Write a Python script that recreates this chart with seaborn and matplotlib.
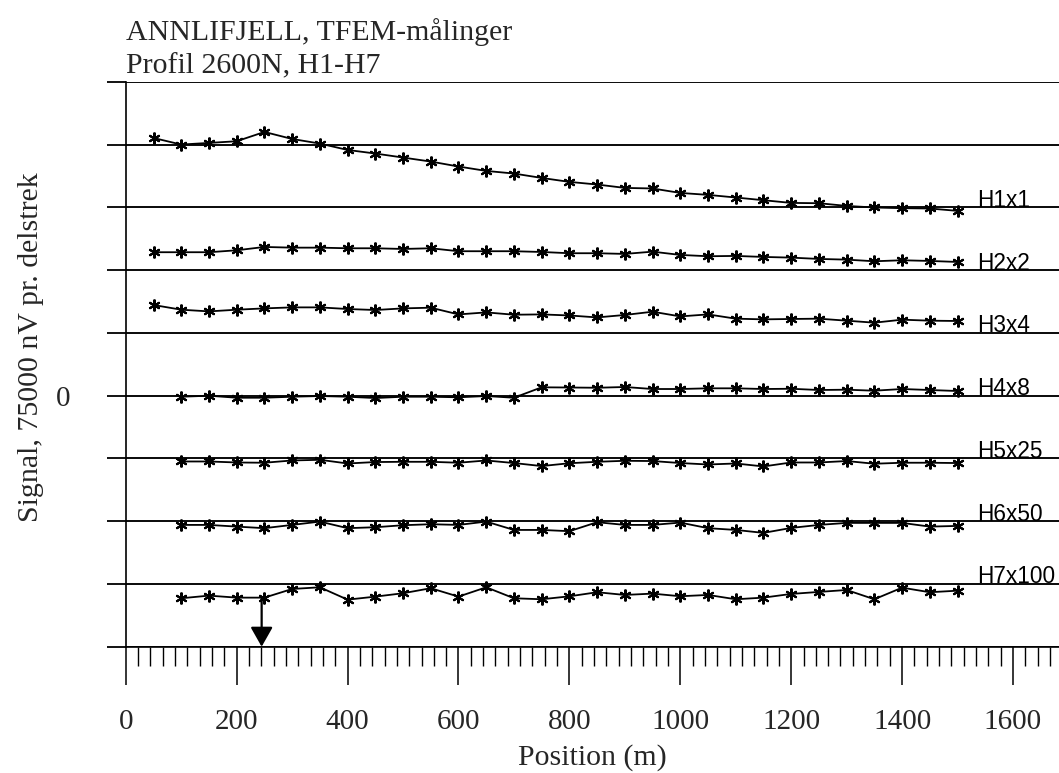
import numpy as np
import pandas as pd
import matplotlib
matplotlib.use("Agg")
import matplotlib.pyplot as plt
from matplotlib.ticker import MultipleLocator, FixedLocator, FuncFormatter
from matplotlib.patches import ArrowStyle
import seaborn as sns

# ---------------- data (plotted signal in divisions of 75000 nV, relative to each trace's base line) ----------------
pos_a = [50, 100, 150, 200, 250, 300, 350, 400, 450, 500, 550, 600, 650, 700, 750,
         800, 850, 900, 950, 1000, 1050, 1100, 1150, 1200, 1250, 1300, 1350, 1400, 1450, 1500]
pos_b = [100, 150, 200, 250, 300, 350, 400, 450, 500, 550, 600, 650, 700, 750,
         800, 850, 900, 950, 1000, 1050, 1100, 1150, 1200, 1250, 1300, 1350, 1400, 1450, 1500]

h1 = [1.108, 1.003, 1.029, 1.056, 1.204, 1.092, 1.019, 0.917, 0.860, 0.796, 0.732, 0.653, 0.583, 0.541, 0.471,
      0.408, 0.366, 0.312, 0.303, 0.232, 0.201, 0.159, 0.116, 0.073, 0.068, 0.025, 0.000, -0.011, -0.016, -0.054]
h2 = [0.287, 0.287, 0.287, 0.318, 0.371, 0.360, 0.360, 0.350, 0.350, 0.339, 0.350, 0.303, 0.303, 0.303, 0.291,
      0.271, 0.271, 0.260, 0.296, 0.244, 0.223, 0.228, 0.212, 0.201, 0.180, 0.169, 0.143, 0.159, 0.148, 0.132]
h3 = [0.446, 0.371, 0.344, 0.371, 0.392, 0.408, 0.408, 0.382, 0.366, 0.392, 0.403, 0.296, 0.328, 0.291, 0.296,
      0.279, 0.248, 0.287, 0.339, 0.264, 0.296, 0.228, 0.217, 0.223, 0.228, 0.196, 0.164, 0.212, 0.196, 0.191]
h4 = [-0.016, 0.000, -0.032, -0.032, -0.016, -0.005, -0.016, -0.037, -0.016, -0.016, -0.025, -0.005, -0.032,
      0.134, 0.131, 0.127, 0.139, 0.107, 0.107, 0.118, 0.118, 0.107, 0.111, 0.091, 0.096, 0.080, 0.107, 0.091, 0.075]
h5 = [-0.048, -0.048, -0.064, -0.068, -0.032, -0.021, -0.080, -0.057, -0.053, -0.053, -0.068, -0.032, -0.073,
      -0.121, -0.076, -0.053, -0.037, -0.041, -0.073, -0.096, -0.080, -0.127, -0.064, -0.064, -0.041, -0.084,
      -0.068, -0.068, -0.073]
h6 = [-0.059, -0.059, -0.086, -0.111, -0.059, -0.006, -0.111, -0.096, -0.064, -0.048, -0.059, -0.006, -0.139,
      -0.139, -0.159, -0.016, -0.059, -0.059, -0.022, -0.111, -0.139, -0.186, -0.107, -0.059, -0.027, -0.027,
      -0.027, -0.086, -0.075]
h7 = [-0.228, -0.186, -0.218, -0.218, -0.080, -0.053, -0.250, -0.202, -0.148, -0.068, -0.202, -0.053, -0.228,
      -0.244, -0.197, -0.132, -0.175, -0.154, -0.196, -0.175, -0.244, -0.218, -0.159, -0.127, -0.096, -0.244,
      -0.059, -0.132, -0.107]

series_names = ["H1x1", "H2x2", "H3x4", "H4x8", "H5x25", "H6x50", "H7x100"]
series_vals = [h1, h2, h3, h4, h5, h6, h7]
series_pos = [pos_a, pos_a, pos_a, pos_b, pos_b, pos_b, pos_b]
base_lines = [3, 2, 1, 0, -1, -2, -3]

arrow_pos = 245          # marked position (m)
label_pos = 1535         # x where trace labels start

title = "ANNLIFJELL, TFEM-målinger\nProfil 2600N, H1-H7"
xlabel = "Position (m)"
ylabel = "Signal, 75000 nV pr. delstrek"
xticks = [0, 200, 400, 600, 800, 1000, 1200, 1400, 1600]

# ---------------- build long frame ----------------
rows = []
for name, vals, poss, base in zip(series_names, series_vals, series_pos, base_lines):
    for p, v in zip(poss, vals):
        rows.append({"series": name, "pos": p, "y": v + base})
df = pd.DataFrame(rows)

# ---------------- style ----------------
sns.set_style("white")
plt.rcParams["font.family"] = ["Liberation Serif", "DejaVu Serif"]
plt.rcParams["axes.linewidth"] = 1.2

W, H = 1059, 773
fig = plt.figure(figsize=(W / 100, H / 100), dpi=100)
x0, x_right, y_top, y_bot = 125.8, 1059.0, 82.0, 646.7
ax = fig.add_axes([x0 / W, (H - y_bot) / H, (x_right - x0) / W, (y_bot - y_top) / H])

star = (6, 2, 0)
sns.lineplot(data=df, x="pos", y="y", hue="series", palette=["black"] * 7,
             estimator=None, sort=False, legend=False, ax=ax,
             marker=star, markersize=8.5, markeredgewidth=1.5,
             markeredgecolor="black", markerfacecolor="black", linewidth=1.3)

ax.set_xlim(0, 1683)
ax.set_ylim(-4, 5)

# spines
for s in ["top", "right"]:
    ax.spines[s].set_visible(False)
ax.spines["left"].set_color("black")
ax.spines["bottom"].set_color("black")

# horizontal division lines
ax.yaxis.set_major_locator(MultipleLocator(1))
ax.yaxis.grid(True, color="black", linewidth=1.35)
ax.xaxis.grid(False)
ax.set_axisbelow(True)
ax.yaxis.set_major_formatter(FuncFormatter(lambda v, p: "0" if abs(v) < 1e-9 else ""))
ax.tick_params(axis="y", which="major", direction="out", length=14, width=1.3,
               color="black", labelsize=21, pad=26, left=True)

# x ticks
ax.xaxis.set_major_locator(FixedLocator(xticks))
ax.xaxis.set_minor_locator(MultipleLocator(200 / 9))
ax.set_xticklabels([str(t) for t in xticks])
ax.tick_params(axis="x", which="major", direction="out", length=27.5, width=1.1,
               color="black", labelsize=21, pad=17, bottom=True)
ax.tick_params(axis="x", which="minor", direction="out", length=13.7, width=1.0,
               color="black", bottom=True)

ax.set_xlabel(xlabel, fontsize=21.5)
ax.xaxis.set_label_coords(0.5, -0.172)
ax.set_ylabel(ylabel, fontsize=21.5)
ax.yaxis.set_label_coords(-0.088, 0.53)

# title
ax.set_title(title, loc="left", fontsize=21.5, pad=6, linespacing=1.36)

# trace labels
for name, base in zip(series_names, base_lines):
    ax.text(label_pos, base + 0.01, name, fontsize=16.3, family=["Liberation Sans", "DejaVu Sans"],
            ha="left", va="baseline", color="black")

# arrow from H7 trace down to the axis
h7_at = dict(zip(pos_b, h7))
ax.annotate("", xy=(arrow_pos, -4), xytext=(arrow_pos, base_lines[6] + h7_at[250]),
            arrowprops=dict(arrowstyle=ArrowStyle("-|>", head_length=1.2, head_width=0.68),
                            mutation_scale=10, color="black", lw=1.6, shrinkA=0, shrinkB=0),
            annotation_clip=False)

fig.savefig("out.png", dpi=100)
